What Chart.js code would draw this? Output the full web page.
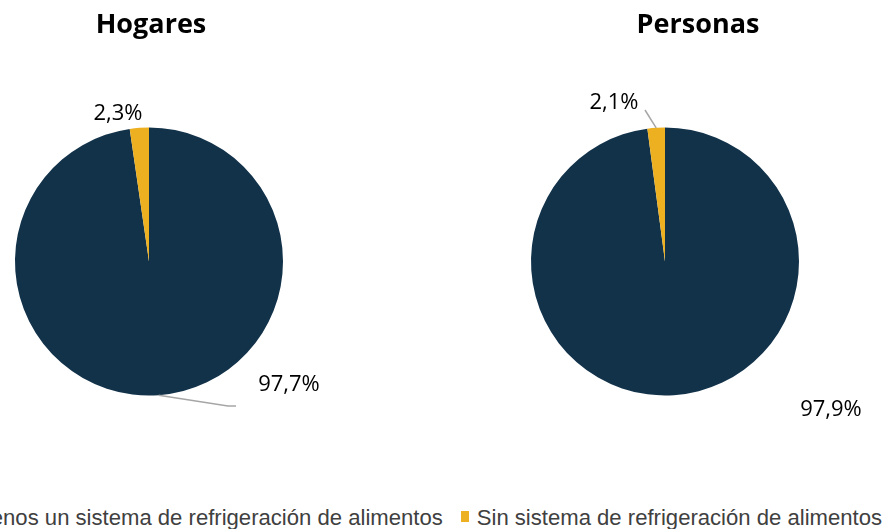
<!DOCTYPE html>
<html>
<head>
<meta charset="utf-8">
<script src="https://cdn.jsdelivr.net/npm/chart.js@4.4.1/dist/chart.umd.min.js"></script>
<style>
  html, body { margin: 0; padding: 0; background: #fff; }
  body { width: 882px; height: 529px; position: relative; overflow: hidden; }
  .box { position: absolute; top: 0; width: 441px; height: 490px; }
  #legend {
    position: absolute; right: 0px; top: 506px; white-space: nowrap; line-height: 23px;
    font-family: "Liberation Sans", sans-serif; font-size: 22.1px; color: #404040;
  }
  #legend span.item { margin-left: 18px; }
  #legend span.mark { display: inline-block; width: 8px; height: 11px; margin-right: 8px; vertical-align: 3px; }
</style>
</head>
<body>
<div class="box" style="left:0"><canvas id="hogares"></canvas></div>
<div class="box" style="left:441px"><canvas id="personas"></canvas></div>
<div id="legend"></div>
<script>
// chart data
const categories = ['Con al menos un sistema de refrigeración de alimentos', 'Sin sistema de refrigeración de alimentos'];
const hogaresValues = [97.7, 2.3];
const personasValues = [97.9, 2.1];
const colors = ['#12324A', '#EDB021'];

// custom plugin: titles + data labels with leader lines
const labelPlugin = {
  id: 'pieLabels',
  afterDraw(chart, args, opts) {
    const ctx = chart.ctx;
    const arcs = chart.getDatasetMeta(0).data;
    const values = chart.data.datasets[0].data;
    const cx = arcs[0].x, cy = arcs[0].y;
    ctx.save();
    // title
    ctx.font = 'bold 27px "Open Sans", sans-serif';
    ctx.fillStyle = '#000';
    ctx.textAlign = 'center';
    ctx.textBaseline = 'middle';
    ctx.fillText(opts.title, cx + opts.titleDx, 25);
    arcs.forEach((arc, i) => {
      const p = opts.pos[i];
      const mid = (arc.startAngle + arc.endAngle) / 2;
      if (p.leader) {
        ctx.strokeStyle = '#A6A6A6';
        ctx.lineWidth = 1.5;
        ctx.beginPath();
        ctx.moveTo(cx + Math.cos(mid) * arc.outerRadius, cy + Math.sin(mid) * arc.outerRadius);
        p.leader.forEach(pt => ctx.lineTo(cx + pt[0], cy + pt[1]));
        ctx.stroke();
      }
      ctx.font = '22px "Open Sans", sans-serif';
      ctx.fillStyle = '#000';
      ctx.fillText(values[i].toFixed(1).replace('.', ',') + '%', cx + p.dx, cy + p.dy);
    });
    ctx.restore();
  }
};

function makePie(id, values, padLeft, opts) {
  return new Chart(document.getElementById(id), {
    type: 'pie',
    data: {
      labels: categories,
      datasets: [{ data: values, backgroundColor: colors, borderWidth: 0, hoverOffset: 0, offset: 0 }]
    },
    options: {
      responsive: true,
      maintainAspectRatio: false,
      animation: false,
      events: [],
      layout: { padding: { left: padLeft, right: 441 - padLeft - 268, top: 127.5, bottom: 94.5 } },
      plugins: { legend: { display: false }, tooltip: { enabled: false }, pieLabels: opts }
    },
    plugins: [labelPlugin]
  });
}

makePie('hogares', hogaresValues, 15, {
  title: 'Hogares', titleDx: 2,
  pos: [
    { dx: 140, dy: 123.5, leader: [[79, 144.5], [87, 144.5]] },
    { dx: -31, dy: -147.5 }
  ]
});
makePie('personas', personasValues, 90, {
  title: 'Personas', titleDx: 33,
  pos: [
    { dx: 166, dy: 148.5 },
    { dx: -51, dy: -158.5, leader: [[-20, -151.5]] }
  ]
});

// legend
const legend = document.getElementById('legend');
categories.forEach((c, i) => {
  const item = document.createElement('span');
  item.className = 'item';
  item.innerHTML = '<span class="mark" style="background:' + colors[i] + '"></span>' + c;
  legend.appendChild(item);
});
</script>
</body>
</html>
